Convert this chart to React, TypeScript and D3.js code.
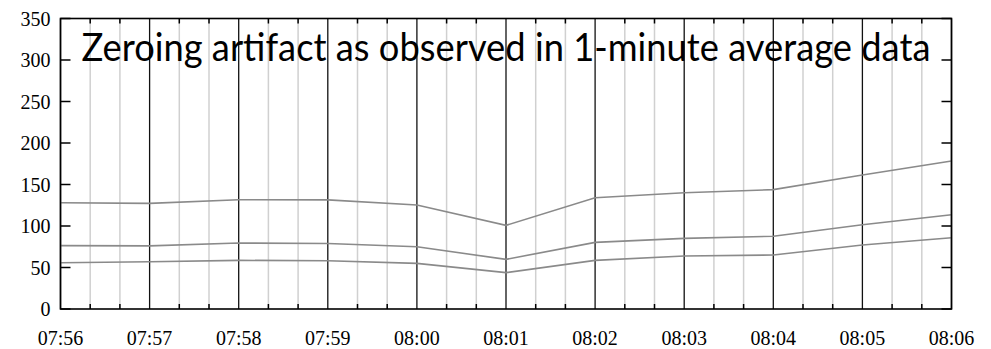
import React from "react";
import * as d3 from "d3";

const times = ["07:56", "07:57", "07:58", "07:59", "08:00", "08:01", "08:02", "08:03", "08:04", "08:05", "08:06"];
const seriesHigh = [128, 127.3, 131.7, 131.5, 125.3, 100.8, 134, 140, 143.8, 161.4, 178.3];
const seriesMid = [76.3, 76, 79.5, 79, 75, 59.8, 80.3, 85.1, 87.6, 101.6, 113.6];
const seriesLow = [55.8, 57, 58.6, 58.2, 55, 43.8, 58.6, 63.9, 65, 77.1, 85.9];
const yTicks = [0, 50, 100, 150, 200, 250, 300, 350];
const title = "Zeroing artifact as observed in 1-minute average data";

const W = 991;
const H = 349;
const left = 60.5;
const right = 951.5;
const top = 18.5;
const bottom = 309;

const parse = d3.timeParse("%H:%M");
const serifStyle: React.CSSProperties = { fontFamily: '"Liberation Serif", "Times New Roman", "DejaVu Serif", serif', fontSize: "20px" };

export default function App() {
  const dates = times.map((t) => parse(t) as Date);
  const x = d3.scaleTime().domain([dates[0], dates[dates.length - 1]]).range([left, right]);
  const y = d3.scaleLinear().domain([0, 350]).range([bottom, top]);
  const majors = x.ticks(d3.timeMinute.every(1) as any);
  const minors = x.ticks(d3.timeSecond.every(20) as any).filter((d) => d.getSeconds() !== 0);
  const fmt = d3.timeFormat("%H:%M");
  const line = d3
    .line<number>()
    .x((_, i) => x(dates[i]))
    .y((v) => y(v));
  const all = [seriesHigh, seriesMid, seriesLow];

  return (
    <svg width={W} height={H} style={{ position: "absolute", left: 0, top: 0, background: "#fff" }}>
      <rect x={0} y={0} width={W} height={H} fill="#fff" />
      {minors.map((d, i) => (
        <g key={"mn" + i}>
          <line x1={x(d)} x2={x(d)} y1={top} y2={bottom} stroke="#d0d0d0" strokeWidth={1.5} />
          <line x1={x(d)} x2={x(d)} y1={bottom} y2={bottom - 5} stroke="#000" strokeWidth={1.5} />
          <line x1={x(d)} x2={x(d)} y1={top} y2={top + 5} stroke="#000" strokeWidth={1.5} />
        </g>
      ))}
      {majors.map((d, i) => (
        <line key={"mj" + i} x1={x(d)} x2={x(d)} y1={top} y2={bottom} stroke="#111" strokeWidth={1.3} />
      ))}
      {yTicks.map((t) => (
        <g key={"yt" + t}>
          <line x1={left} x2={left + 10} y1={y(t)} y2={y(t)} stroke="#000" strokeWidth={1.5} />
          <line x1={right} x2={right - 10} y1={y(t)} y2={y(t)} stroke="#000" strokeWidth={1.5} />
          <text x={left - 10} y={y(t) + 7} textAnchor="end" style={serifStyle} fill="#000">
            {t}
          </text>
        </g>
      ))}
      {majors.map((d, i) => (
        <text key={"xl" + i} x={x(d)} y={345} textAnchor="middle" style={serifStyle} fill="#000">
          {fmt(d)}
        </text>
      ))}
      {all.map((s, i) => (
        <path key={"s" + i} d={line(s) || ""} fill="none" stroke="#8a8a8a" strokeWidth={1.6} />
      ))}
      <rect x={left} y={top} width={right - left} height={bottom - top} fill="none" stroke="#000" strokeWidth={1.6} />
      <text
        x={(left + right) / 2}
        y={61}
        textAnchor="middle"
        style={{ fontFamily: "Lato, sans-serif", fontSize: "39px" }}
        textLength={849}
        lengthAdjust="spacingAndGlyphs"
        fill="#000"
      >
        {title}
      </text>
    </svg>
  );
}
